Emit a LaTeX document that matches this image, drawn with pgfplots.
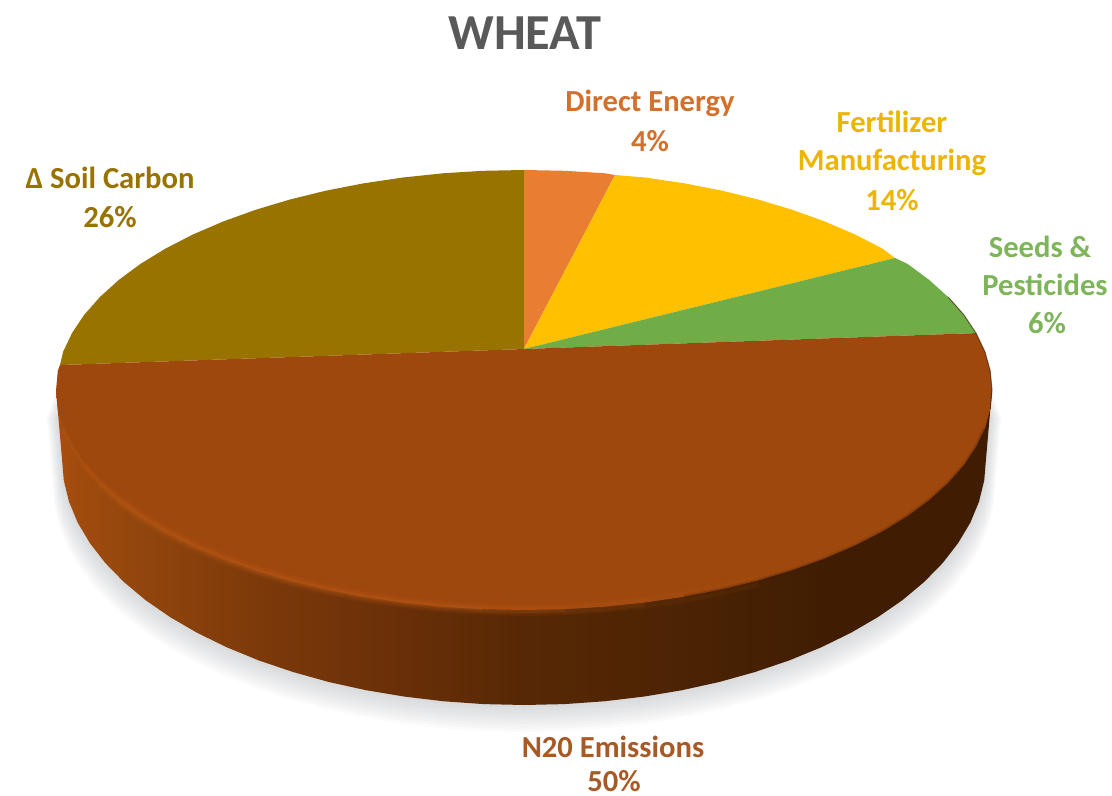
\documentclass[border=0pt]{standalone}
\usepackage{fontspec}
\setmainfont{Carlito}
\usepackage{pgfplots}
\usepackage{pgfplotstable}
\pgfplotsset{compat=1.18}
\tikzset{lab/.style={font=\bfseries\fontsize{15.3}{18}\selectfont, anchor=center, inner sep=0pt}}
\definecolor{cOlive}{HTML}{997300}
\definecolor{cOrange}{HTML}{E97D31}
\definecolor{cYellow}{HTML}{FFC000}
\definecolor{cGreen}{HTML}{70AD47}
\definecolor{cRed}{HTML}{9E480E}
\definecolor{cRim}{HTML}{CC641C}
\definecolor{cDark}{HTML}{3A1A02}
\definecolor{cShadow}{HTML}{959AA0}
\definecolor{s1}{HTML}{A84D0F}
\definecolor{s2}{HTML}{93470D}
\definecolor{s3}{HTML}{7C390A}
\definecolor{s4}{HTML}{6A3008}
\definecolor{s5}{HTML}{572805}
\definecolor{s6}{HTML}{4B2304}
\definecolor{s7}{HTML}{401D02}
\pgfdeclarehorizontalshading{sideshade}{100bp}{
 color(0bp)=(s1); color(25bp)=(s1); color(29bp)=(s2); color(36bp)=(s3);
 color(43bp)=(s4); color(50bp)=(s5); color(59bp)=(s6); color(66bp)=(s7); color(100bp)=(s7)}
% front half of the top face, right to left
\pgfplotstableread{
x y
992 390
990.2 409.2
984.9 428.2
976 446.9
963.8 465.2
948.1 483
929.3 500
907.4 516.2
882.5 531.4
854.9 545.6
824.8 558.5
792.4 570.2
758 580.5
721.8 589.4
684.1 596.7
645.1 602.5
605.2 606.7
564.8 609.2
524 610
483.2 609.2
442.8 606.7
402.9 602.5
363.9 596.7
326.2 589.4
290 580.5
255.6 570.2
223.2 558.5
193.1 545.6
165.5 531.4
140.6 516.2
118.7 500
99.9 483
84.2 465.2
72 446.9
63.1 428.2
57.8 409.2
56 390
}\FaceFront
% silhouette of the side wall
\pgfplotstableread{
x y
992 390
986 459
984.2 480.4
979 501.7
970.3 522.7
958.1 543.1
942.7 563
924.1 582
902.5 600.1
877.9 617.1
850.7 632.9
821 647.4
789 660.5
755 672
719.2 682
682 690.2
643.6 696.6
604.2 701.3
564.3 704.1
524 705
483.7 704.1
443.8 701.3
404.4 696.6
366 690.2
328.8 682
293 672
259 660.5
227 647.4
197.3 632.9
170.1 617.1
145.5 600.1
123.9 582
105.3 563
89.9 543.1
77.7 522.7
69 501.7
63.8 480.4
62 459
56 390
524 380
}\SideWall
\begin{document}
\begin{tikzpicture}
\useasboundingbox (0,0) rectangle (556pt,398pt);
\begin{axis}[
  at={(0,0)}, anchor=south west,
  scale only axis, width=556pt, height=398pt,
  xmin=0, xmax=1112, ymin=0, ymax=796, y dir=reverse,
  hide axis, clip=false,
  every axis plot/.append style={mark=none}
]
% soft shadow
\pgfplotsinvokeforeach{1,2,3,4,5,6,7,8,9,10}{
  \addplot[fill=cShadow, draw=none, opacity=0.045]
    table[x expr={524+(\thisrow{x}-524)*(1+0.002*#1)}, y expr={\thisrow{y}+2.7*#1}] {\SideWall} --cycle;
}
% side wall
\addplot[shading=sideshade, draw=none] table {\SideWall} --cycle;
% front of the top face (N2O slice)
\addplot[fill=cRed, draw=none] table {\FaceFront} --cycle;
% Delta soil carbon 26%
\addplot[fill=cOlive, draw=none] coordinates {
 (524,349) (60,365) (63.1,351.8) (72,333.1) (84.2,314.8) (99.9,297) (118.7,280) (140.6,263.8)
 (165.5,248.6) (193.1,234.4) (223.2,221.5) (255.6,209.8) (290,199.5) (326.2,190.6) (363.9,183.3)
 (402.9,177.5) (442.8,173.3) (483.2,170.8) (524,170)} --cycle;
% Direct energy 4%
\addplot[fill=cOrange, draw=none] coordinates {
 (524,349) (524,170) (564.8,170.8) (605.2,173.3) (615,175)} --cycle;
% Fertilizer manufacturing 14%
\addplot[fill=cYellow, draw=none] coordinates {
 (524,349) (615,175) (645.1,177.5) (684.1,183.3) (721.8,190.6) (758,199.5) (792.4,209.8)
 (824.8,221.5) (854.9,234.4) (882.5,248.6) (895,258)} --cycle;
% Seeds and pesticides 6%
\addplot[fill=cGreen, draw=none] coordinates {
 (524,349) (895,258) (907.4,263.8) (929.3,280) (948.1,297) (963.8,314.8) (976,333.1)} --cycle;
% N2O wedge, back part
\addplot[fill=cRed, draw=none] coordinates {
 (524,349) (976,333.1) (984.9,351.8) (990.2,370.8) (992,390.5) (56,390.5) (57.8,370.8) (60,365)} --cycle;
% rim light on the left, soft dark edge on the right
\addplot[cRim, line width=6pt, opacity=.07, restrict x to domain=118:760] table {\FaceFront};
\addplot[cRim, line width=4.4pt, opacity=.10, restrict x to domain=99:680] table {\FaceFront};
\addplot[cRim, line width=2.8pt, opacity=.14, restrict x to domain=84:600] table {\FaceFront};
\addplot[cRim, line width=1.4pt, opacity=.18, restrict x to domain=63:500] table {\FaceFront};
\addplot[cDark, line width=2.2pt, opacity=.10, restrict x to domain=660:985] table {\FaceFront};
\addplot[cDark, line width=1.1pt, opacity=.16, restrict x to domain=660:985] table {\FaceFront};
\addplot[cDark, line width=.5pt, opacity=.65] coordinates {(948.1,297) (963.8,314.8) (976,333.1) (984.9,351.8) (990.2,370.8) (992,390) (990.2,409.2)};
% labels
\node[font=\bfseries\fontsize{25.2}{28}\selectfont, text=black!65, anchor=center, inner sep=0pt] at (axis cs:525,33) {WHEAT};
\node[lab, text=cOrange!90!black] at (axis cs:650,103) {Direct Energy};
\node[lab, text=cOrange!90!black] at (axis cs:650,141) {4\%};
\node[lab, text=cYellow!85!olive] at (axis cs:892,122) {Fertilizer};
\node[lab, text=cYellow!85!olive] at (axis cs:892,162) {Manufacturing};
\node[lab, text=cYellow!85!olive] at (axis cs:892,200) {14\%};
\node[lab, text=cGreen!90!white] at (axis cs:1040,247) {Seeds \&};
\node[lab, text=cGreen!90!white] at (axis cs:1045,285) {Pesticides};
\node[lab, text=cGreen!90!white] at (axis cs:1047,323) {6\%};
\node[lab, text=cOlive] at (axis cs:110,178) {Δ Soil Carbon};
\node[lab, text=cOlive] at (axis cs:110,217) {26\%};
\node[lab, text=cRed!90!white] at (axis cs:613,747) {N20 Emissions};
\node[lab, text=cRed!90!white] at (axis cs:614,781) {50\%};
\end{axis}
\end{tikzpicture}
\end{document}
